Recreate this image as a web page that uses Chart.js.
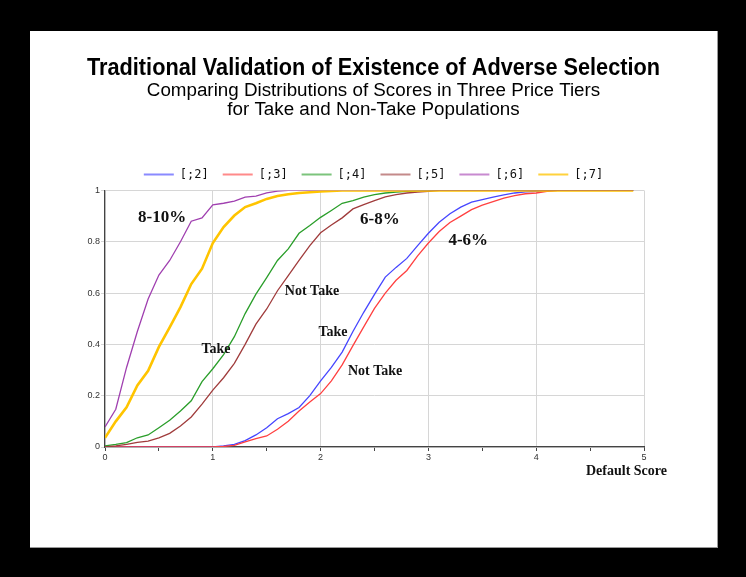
<!DOCTYPE html>
<html lang="en">
<head>
<meta charset="UTF-8">
<title>Traditional Validation of Existence of Adverse Selection</title>
<script src="https://cdn.jsdelivr.net/npm/chart.js@4.4.0/dist/chart.umd.min.js"></script>
<style>
  html, body { margin: 0; padding: 0; background: #000; }
  body { width: 746px; height: 577px; position: relative; overflow: hidden; }
  #panel {
    position: absolute; left: 30px; top: 31px; width: 687px; height: 516px;
    background: #fff; border-right: 1px solid #999; border-bottom: 1px solid #999;
  }
</style>
</head>
<body>
<div id="panel">
  <canvas id="cdf_chart" width="687" height="516"></canvas>
</div>
<script>
// default score grid, 0.0 .. 4.9
var scores = [0, 0.1, 0.2, 0.3, 0.4, 0.5, 0.6, 0.7, 0.8, 0.9,
  1, 1.1, 1.2, 1.3, 1.4, 1.5, 1.6, 1.7, 1.8, 1.9,
  2, 2.1, 2.2, 2.3, 2.4, 2.5, 2.6, 2.7, 2.8, 2.9,
  3, 3.1, 3.2, 3.3, 3.4, 3.5, 3.6, 3.7, 3.8, 3.9,
  4, 4.1, 4.2, 4.3, 4.4, 4.5, 4.6, 4.7, 4.8, 4.9];

var seriesNames = ['[;2]', '[;3]', '[;4]', '[;5]', '[;6]', '[;7]'];

// 4-6% take
var tier2 = [0, 0, 0, 0, 0, 0, 0, 0, 0, 0,
  0, 0.004, 0.01, 0.025, 0.047, 0.075, 0.11, 0.13, 0.154, 0.2,
  0.258, 0.31, 0.37, 0.45, 0.525, 0.595, 0.662, 0.70, 0.735, 0.785,
  0.833, 0.876, 0.909, 0.935, 0.954, 0.964, 0.974, 0.983, 0.99, 0.994,
  0.996, 0.998, 1, 1, 1, 1, 1, 1, 1, 1];
// 4-6% not take
var tier3 = [0, 0, 0, 0, 0, 0, 0, 0, 0, 0,
  0, 0.002, 0.006, 0.02, 0.033, 0.043, 0.069, 0.1, 0.14, 0.175,
  0.208, 0.258, 0.32, 0.395, 0.468, 0.54, 0.6, 0.65, 0.688, 0.745,
  0.795, 0.84, 0.875, 0.9, 0.925, 0.943, 0.956, 0.97, 0.98, 0.987,
  0.99, 0.996, 1, 1, 1, 1, 1, 1, 1, 1];
// 6-8% take
var tier4 = [0.004, 0.01, 0.017, 0.036, 0.047, 0.075, 0.104, 0.14, 0.18, 0.255,
  0.305, 0.36, 0.43, 0.52, 0.596, 0.66, 0.727, 0.772, 0.833, 0.863,
  0.895, 0.922, 0.95, 0.96, 0.974, 0.984, 0.99, 0.993, 0.996, 0.998,
  1, 1, 1, 1, 1, 1, 1, 1, 1, 1,
  1, 1, 1, 1, 1, 1, 1, 1, 1, 1];
// 6-8% not take
var tier5 = [0, 0.004, 0.01, 0.018, 0.023, 0.036, 0.053, 0.082, 0.117, 0.167,
  0.222, 0.27, 0.326, 0.4, 0.479, 0.538, 0.609, 0.668, 0.727, 0.785,
  0.835, 0.865, 0.893, 0.928, 0.945, 0.96, 0.975, 0.984, 0.99, 0.993,
  0.996, 1, 1, 1, 1, 1, 1, 1, 1, 1,
  1, 1, 1, 1, 1, 1, 1, 1, 1, 1];
// 8-10% take
var tier6 = [0.078, 0.147, 0.31, 0.45, 0.577, 0.67, 0.727, 0.8, 0.88, 0.893,
  0.944, 0.95, 0.958, 0.974, 0.978, 0.99, 0.997, 1, 1, 1,
  1, 1, 1, 1, 1, 1, 1, 1, 1, 1,
  1, 1, 1, 1, 1, 1, 1, 1, 1, 1,
  1, 1, 1, 1, 1, 1, 1, 1, 1, 1];
// 8-10% not take
var tier7 = [0.036, 0.1, 0.155, 0.24, 0.297, 0.39, 0.466, 0.545, 0.635, 0.695,
  0.795, 0.857, 0.902, 0.935, 0.95, 0.967, 0.978, 0.985, 0.99, 0.993,
  0.996, 0.998, 1, 1, 1, 1, 1, 1, 1, 1,
  1, 1, 1, 1, 1, 1, 1, 1, 1, 1,
  1, 1, 1, 1, 1, 1, 1, 1, 1, 1];

var allSeries = [tier2, tier3, tier4, tier5, tier6, tier7];

// in-plot labels: text, score, share
var noteTexts = ['8-10%', '6-8%', '4-6%', 'Not Take', 'Take', 'Take', 'Not Take'];
var noteX = [0.53, 2.55, 3.37, 1.92, 1.03, 2.115, 2.505];
var noteY = [0.895, 0.887, 0.805, 0.605, 0.379, 0.445, 0.293];
var noteBig = [true, true, true, false, false, false, false];

var lineColors = ['#4646ff', '#ff4040', '#2a9e2a', '#a03c3c', '#a040b0', '#ffc400'];
var legendColors = ['#8a8aff', '#ff8a8a', '#7cc47c', '#c48a8a', '#c88ad0', '#ffd23c'];
var lineWidths = [1.3, 1.3, 1.3, 1.3, 1.3, 2.6];
var drawOrder = [5, 4, 3, 2, 1, 0];

var datasets = allSeries.map(function (s, i) {
  return {
    label: seriesNames[i],
    data: s.map(function (v, k) { return { x: scores[k], y: v }; }),
    borderColor: lineColors[i],
    backgroundColor: lineColors[i],
    borderWidth: lineWidths[i],
    pointRadius: 0,
    tension: 0,
    fill: false,
    order: drawOrder[i]
  };
});

var notesPlugin = {
  id: 'notes',
  afterDatasetsDraw: function (chart) {
    var ctx = chart.ctx;
    var xs = chart.scales.x, ys = chart.scales.y;
    ctx.save();
    ctx.fillStyle = '#111';
    ctx.textAlign = 'center';
    ctx.textBaseline = 'middle';
    for (var i = 0; i < noteTexts.length; i++) {
      ctx.font = noteBig[i] ? 'bold 17px "Liberation Serif", "DejaVu Serif", serif'
                            : 'bold 14px "Liberation Serif", "DejaVu Serif", serif';
      ctx.fillText(noteTexts[i], xs.getPixelForValue(noteX[i]), ys.getPixelForValue(noteY[i]));
    }
    // axis title, sits below and right of the last tick
    ctx.font = 'bold 14px "Liberation Serif", "DejaVu Serif", serif';
    ctx.textAlign = 'right';
    ctx.fillText('Default Score', xs.right + 23, xs.top + 24);
    ctx.restore();
  }
};

var ctx = document.getElementById('cdf_chart');
new Chart(ctx, {
  type: 'line',
  data: { datasets: datasets },
  plugins: [notesPlugin],
  options: {
    responsive: false,
    animation: false,
    // equal side padding keeps title centred (and squeezes it to the original width);
    // a blank right axis balances the left one
    layout: { padding: { left: 57, right: 57, top: 0, bottom: 80 } },
    plugins: {
      title: {
        display: true,
        text: 'Traditional Validation of Existence of Adverse Selection',
        color: '#000',
        font: { family: '"Liberation Sans Narrow", "Liberation Sans", Arial, sans-serif', size: 23.5, weight: 'bold', lineHeight: 1.04 },
        padding: { top: 25, bottom: 0 }
      },
      subtitle: {
        display: true,
        text: ['Comparing Distributions of Scores in Three Price Tiers', 'for Take and Non-Take Populations'],
        color: '#000',
        font: { family: '"Liberation Sans", Arial, sans-serif', size: 18.8, lineHeight: 1.01 },
        padding: { top: 1, bottom: 35 }
      },
      legend: {
        display: true,
        position: 'top',
        labels: {
          boxWidth: 30,
          boxHeight: 2,
          padding: 14,
          color: '#111',
          font: { family: '"DejaVu Sans Mono", monospace', size: 12 },
          sort: function (a, b) { return a.datasetIndex - b.datasetIndex; },
          generateLabels: function (chart) {
            var items = Chart.defaults.plugins.legend.labels.generateLabels(chart);
            items.forEach(function (it) {
              it.fillStyle = legendColors[it.datasetIndex];
              it.strokeStyle = legendColors[it.datasetIndex];
              it.lineWidth = 0;
            });
            return items;
          }
        }
      },
      tooltip: { enabled: false }
    },
    scales: {
      x: {
        type: 'linear',
        min: 0,
        max: 5,
        afterFit: function (scale) { scale.height = 20; },
        ticks: {
          stepSize: 0.5,
          color: '#333',
          padding: 1,
          maxRotation: 0,
          font: { family: '"Liberation Sans", Arial, sans-serif', size: 9 },
          callback: function (v) { return Number.isInteger(v) ? String(v) : ''; }
        },
        grid: {
          color: function (c) { return Number.isInteger(c.tick.value) ? '#d6d6d6' : 'rgba(0,0,0,0)'; },
          tickColor: '#444',
          tickLength: 4,
          lineWidth: 1
        },
        border: { color: '#444', width: 1.2 }
      },
      y: {
        min: 0,
        max: 1,
        afterFit: function (scale) { scale.width = 18; },
        ticks: {
          stepSize: 0.2,
          color: '#333',
          padding: 1,
          font: { family: '"Liberation Sans", Arial, sans-serif', size: 9 },
          callback: function (v) { return String(Math.round(v * 10) / 10); }
        },
        grid: {
          color: '#d6d6d6',
          tickColor: '#d6d6d6',
          tickLength: 4,
          lineWidth: 1
        },
        border: { color: '#444', width: 1.2 }
      },
      spacer: {
        type: 'linear',
        position: 'right',
        min: 0,
        max: 1,
        afterFit: function (scale) { scale.width = 16; },
        ticks: { display: false },
        grid: { display: false, drawTicks: false },
        border: { display: false }
      }
    }
  }
});
</script>
</body>
</html>
